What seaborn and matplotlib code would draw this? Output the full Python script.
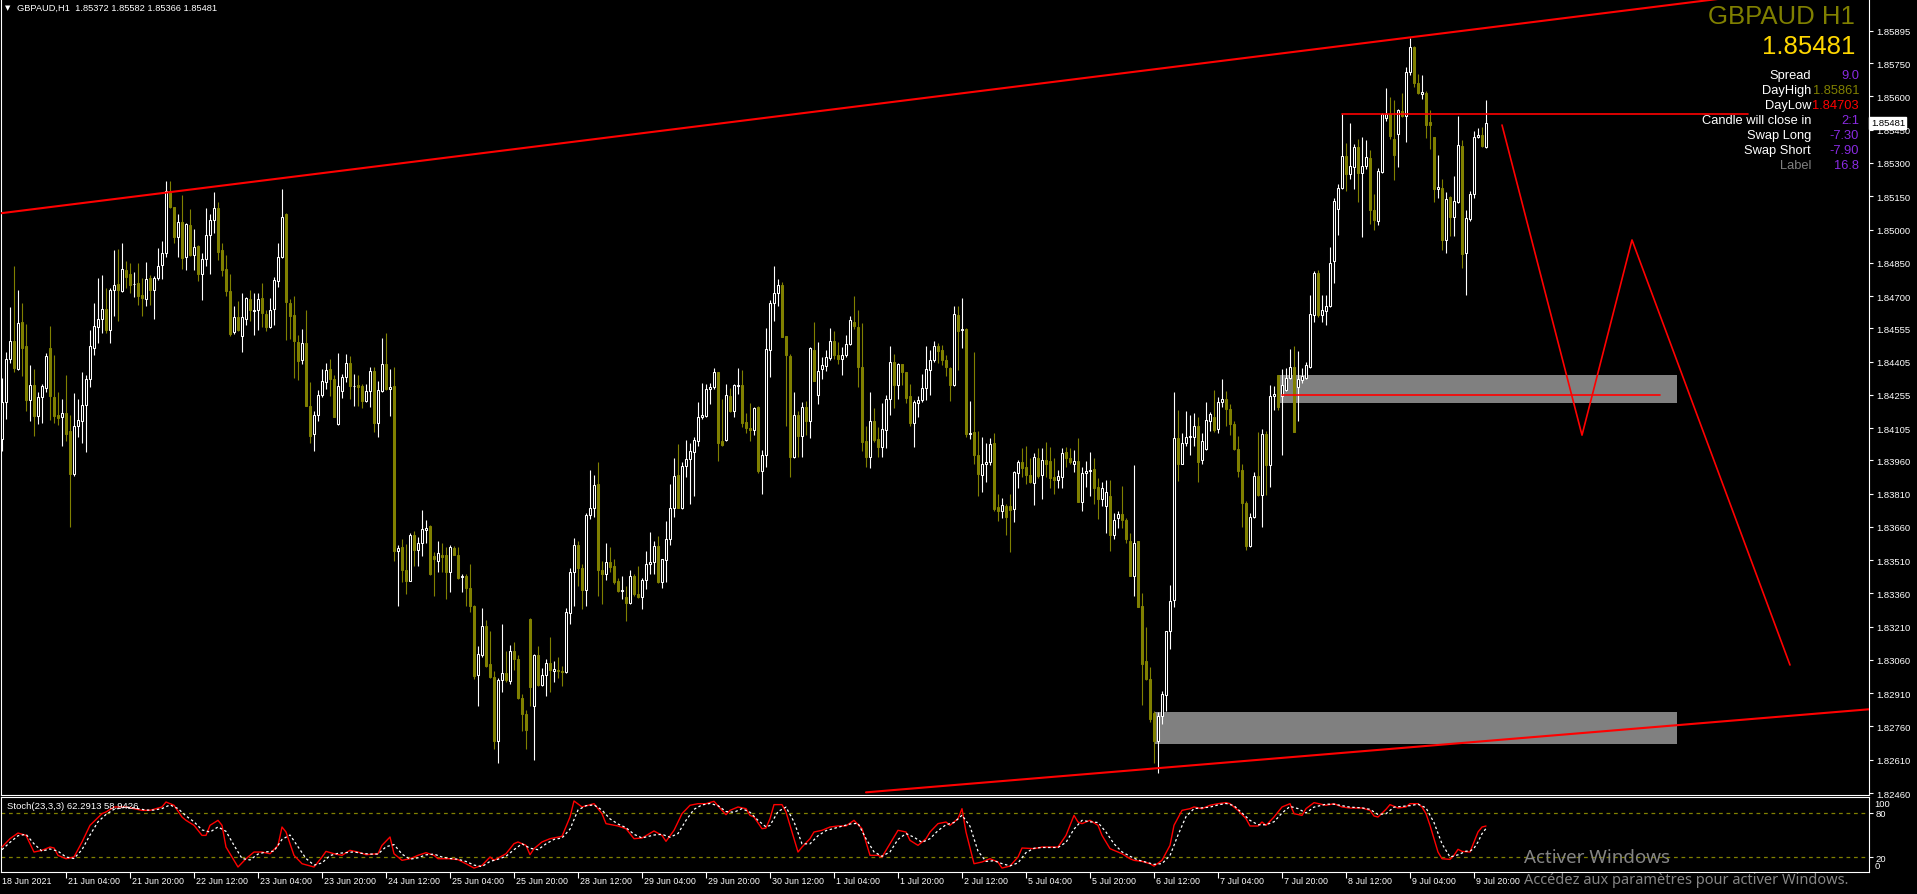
import numpy as np
import pandas as pd
import matplotlib
matplotlib.use("Agg")
import matplotlib.pyplot as plt
import matplotlib.transforms as mtransforms
from matplotlib.patches import Rectangle
import seaborn as sns

sns.set_theme(style="dark", rc={
    "figure.facecolor": "black", "axes.facecolor": "black",
    "axes.edgecolor": "white", "text.color": "white",
    "xtick.color": "white", "ytick.color": "white",
    "axes.grid": False,
})
plt.rcParams["font.family"] = ["Liberation Sans", "DejaVu Sans"]

OLIVE = "#808000"
VIOLET = "#8a2be2"

# ── GBPAUD H1 candles, 18 Jun 12:00 -> 9 Jul 23:00 (bar index 0..371) ──
opens = [
    1.84056, 1.84221, 1.84418, 1.84497, 1.84372, 1.84584, 1.84475, 1.84230, 1.84297, 1.84160,
    1.84245, 1.84286, 1.84464, 1.84245, 1.84164, 1.84157, 1.84172, 1.84092, 1.83896, 1.84116,
    1.84138, 1.84208, 1.84328, 1.84466, 1.84560, 1.84598, 1.84641, 1.84547, 1.84727, 1.84755,
    1.84722, 1.84817, 1.84801, 1.84753, 1.84760, 1.84705, 1.84687, 1.84782, 1.84727, 1.84782,
    1.84838, 1.84893, 1.85174, 1.85101, 1.84966, 1.85034, 1.84874, 1.85020, 1.84887, 1.84926,
    1.84801, 1.84869, 1.84974, 1.85044, 1.85099, 1.84906, 1.84823, 1.84724, 1.84540, 1.84604,
    1.84521, 1.84598, 1.84685, 1.84633, 1.84635, 1.84690, 1.84620, 1.84562, 1.84641, 1.84770,
    1.84874, 1.85068, 1.84668, 1.84613, 1.84494, 1.84414, 1.84488, 1.84206, 1.84080, 1.84162,
    1.84252, 1.84313, 1.84372, 1.84326, 1.84124, 1.84271, 1.84335, 1.84398, 1.84293, 1.84297,
    1.84295, 1.84225, 1.84273, 1.84363, 1.84126, 1.84273, 1.84396, 1.84282, 1.84295, 1.83550,
    1.83568, 1.83467, 1.83417, 1.83623, 1.83555, 1.83586, 1.83647, 1.83664, 1.83528, 1.83504,
    1.83535, 1.83531, 1.83454, 1.83564, 1.83535, 1.83434, 1.83436, 1.83384, 1.83301, 1.82994,
    1.83080, 1.83215, 1.83040, 1.82983, 1.82694, 1.82970, 1.83001, 1.82966, 1.83099, 1.83062,
    1.82887, 1.82817, 1.83246, 1.82850, 1.83080, 1.82948, 1.82994, 1.83044, 1.83009, 1.83016,
    1.83012, 1.83007, 1.83270, 1.83454, 1.83577, 1.83472, 1.83375, 1.83712, 1.83743, 1.83853,
    1.83467, 1.83448, 1.83500, 1.83482, 1.83415, 1.83369, 1.83344, 1.83316, 1.83439, 1.83356,
    1.83344, 1.83421, 1.83494, 1.83500, 1.83573, 1.83412, 1.83509, 1.83605, 1.83743, 1.83894,
    1.83743, 1.83932, 1.83964, 1.83997, 1.84046, 1.84157, 1.84160, 1.84280, 1.84289, 1.84356,
    1.84046, 1.84050, 1.84249, 1.84181, 1.84293, 1.84297, 1.84133, 1.84107, 1.84096, 1.84199,
    1.83912, 1.83982, 1.84457, 1.84668, 1.84712, 1.84749, 1.84519, 1.84429, 1.83973, 1.84166,
    1.84070, 1.84199, 1.84135, 1.84457, 1.84252, 1.84372, 1.84383, 1.84420, 1.84497, 1.84436,
    1.84418, 1.84436, 1.84484, 1.84584, 1.84562, 1.84381, 1.84046, 1.83973, 1.84138, 1.84056,
    1.84019, 1.84098, 1.84236, 1.84405, 1.84300, 1.84396, 1.84356, 1.84249, 1.84129, 1.84216,
    1.84230, 1.84286, 1.84368, 1.84414, 1.84473, 1.84455, 1.84414, 1.84374, 1.84299, 1.84613,
    1.84547, 1.84552, 1.84080, 1.84089, 1.83982, 1.83895, 1.83943, 1.83950, 1.84037, 1.83747,
    1.83731, 1.83753, 1.83753, 1.83742, 1.83902, 1.83954, 1.83928, 1.83895, 1.83856, 1.83972,
    1.83895, 1.83961, 1.83956, 1.83884, 1.83869, 1.83884, 1.83998, 1.83972, 1.83945, 1.83956,
    1.83771, 1.83902, 1.83910, 1.83921, 1.83840, 1.83786, 1.83753, 1.83801, 1.83622, 1.83699,
    1.83716, 1.83692, 1.83594, 1.83436, 1.83594, 1.83305, 1.83054, 1.82973, 1.82820, 1.82693,
    1.82809, 1.82901, 1.83189, 1.83331, 1.84059, 1.83943, 1.84037, 1.84066, 1.84066, 1.84114,
    1.83961, 1.84011, 1.84136, 1.84157, 1.84103, 1.84223, 1.84238, 1.84190, 1.84125, 1.84009,
    1.83917, 1.83768, 1.83572, 1.83705, 1.83889, 1.83803, 1.84079, 1.83939, 1.84251, 1.84343,
    1.84251, 1.84277, 1.84332, 1.84380, 1.84288, 1.84321, 1.84332, 1.84382, 1.84616, 1.84802,
    1.84616, 1.84634, 1.84656, 1.84857, 1.85093, 1.85189, 1.85331, 1.85250, 1.85283, 1.85370,
    1.85254, 1.85287, 1.85322, 1.85090, 1.85038, 1.85261, 1.85501, 1.85519, 1.85407, 1.85431,
    1.85534, 1.85512, 1.85709, 1.85822, 1.85661, 1.85610, 1.85615, 1.85484, 1.85418, 1.85184,
    1.85189, 1.84951, 1.85145, 1.85058, 1.85125, 1.85377, 1.84896, 1.85047, 1.85158, 1.85418,
    1.85425, 1.85372,
]
highs = [
    1.84332, 1.84446, 1.84650, 1.84836, 1.84727, 1.84667, 1.84575, 1.84387, 1.84372, 1.84267,
    1.84304, 1.84444, 1.84567, 1.84433, 1.84267, 1.84236, 1.84345, 1.84164, 1.84264, 1.84236,
    1.84356, 1.84346, 1.84549, 1.84667, 1.84781, 1.84795, 1.84736, 1.84735, 1.84906, 1.84911,
    1.84939, 1.84858, 1.84849, 1.84808, 1.84847, 1.84782, 1.84852, 1.84795, 1.84792, 1.84915,
    1.84946, 1.85218, 1.85218, 1.85101, 1.85068, 1.85156, 1.85031, 1.85093, 1.85003, 1.84930,
    1.84896, 1.85095, 1.85068, 1.85169, 1.85126, 1.84939, 1.84885, 1.84799, 1.84654, 1.84678,
    1.84716, 1.84698, 1.84727, 1.84713, 1.84714, 1.84758, 1.84635, 1.84690, 1.84786, 1.84939,
    1.85182, 1.85075, 1.84685, 1.84700, 1.84525, 1.84552, 1.84635, 1.84313, 1.84184, 1.84276,
    1.84372, 1.84400, 1.84418, 1.84345, 1.84442, 1.84350, 1.84438, 1.84429, 1.84350, 1.84346,
    1.84304, 1.84304, 1.84378, 1.84381, 1.84319, 1.84510, 1.84534, 1.84372, 1.84378, 1.83577,
    1.83605, 1.83583, 1.83632, 1.83642, 1.83614, 1.83734, 1.83691, 1.83669, 1.83546, 1.83596,
    1.83586, 1.83568, 1.83577, 1.83572, 1.83568, 1.83448, 1.83445, 1.83494, 1.83307, 1.83121,
    1.83292, 1.83240, 1.83191, 1.83012, 1.82979, 1.83222, 1.83099, 1.83126, 1.83139, 1.83080,
    1.82906, 1.82832, 1.83251, 1.83086, 1.83123, 1.83025, 1.83062, 1.83163, 1.83053, 1.83075,
    1.83034, 1.83292, 1.83472, 1.83608, 1.83596, 1.83494, 1.83724, 1.83918, 1.83894, 1.83951,
    1.83504, 1.83586, 1.83568, 1.83513, 1.83430, 1.83436, 1.83393, 1.83463, 1.83448, 1.83485,
    1.83430, 1.83553, 1.83638, 1.83596, 1.83620, 1.83513, 1.83688, 1.83853, 1.83969, 1.84032,
    1.83954, 1.84050, 1.84037, 1.84065, 1.84221, 1.84310, 1.84304, 1.84308, 1.84374, 1.84359,
    1.84236, 1.84304, 1.84286, 1.84304, 1.84374, 1.84365, 1.84172, 1.84218, 1.84199, 1.84203,
    1.84006, 1.84558, 1.84681, 1.84836, 1.84777, 1.84764, 1.84521, 1.84438, 1.84267, 1.84184,
    1.84221, 1.84227, 1.84470, 1.84584, 1.84493, 1.84424, 1.84455, 1.84558, 1.84543, 1.84493,
    1.84470, 1.84525, 1.84608, 1.84700, 1.84635, 1.84580, 1.84115, 1.84267, 1.84194, 1.84111,
    1.84218, 1.84254, 1.84475, 1.84438, 1.84398, 1.84396, 1.84359, 1.84304, 1.84230, 1.84249,
    1.84350, 1.84475, 1.84455, 1.84497, 1.84488, 1.84479, 1.84433, 1.84381, 1.84657, 1.84654,
    1.84690, 1.84556, 1.84227, 1.84448, 1.84092, 1.84066, 1.84037, 1.84059, 1.84081, 1.83808,
    1.83790, 1.83764, 1.83808, 1.83913, 1.83961, 1.84015, 1.84022, 1.83972, 1.83993, 1.84015,
    1.84015, 1.84041, 1.84020, 1.83972, 1.83917, 1.84015, 1.84020, 1.84015, 1.84004, 1.84059,
    1.83928, 1.83956, 1.83998, 1.83972, 1.83878, 1.83862, 1.83873, 1.83873, 1.83720, 1.83731,
    1.83845, 1.83699, 1.83633, 1.83939, 1.83594, 1.83360, 1.83207, 1.83028, 1.82829, 1.82824,
    1.82918, 1.83192, 1.83397, 1.84267, 1.84186, 1.84081, 1.84184, 1.84162, 1.84175, 1.84153,
    1.84081, 1.84223, 1.84179, 1.84277, 1.84245, 1.84328, 1.84273, 1.84212, 1.84136, 1.84070,
    1.83943, 1.83775, 1.83720, 1.83906, 1.84085, 1.84103, 1.84092, 1.84299, 1.84293, 1.84343,
    1.84371, 1.84376, 1.84463, 1.84474, 1.84452, 1.84376, 1.84402, 1.84704, 1.84813, 1.84819,
    1.84704, 1.84704, 1.84922, 1.85141, 1.85206, 1.85519, 1.85392, 1.85479, 1.85385, 1.85407,
    1.85418, 1.85403, 1.85359, 1.85158, 1.85276, 1.85527, 1.85639, 1.85599, 1.85582, 1.85545,
    1.85617, 1.85731, 1.85862, 1.85829, 1.85702, 1.85698, 1.85626, 1.85538, 1.85418, 1.85337,
    1.85228, 1.85167, 1.85151, 1.85239, 1.85512, 1.85403, 1.85086, 1.85173, 1.85442, 1.85457,
    1.85464, 1.85582,
]
lows = [
    1.84000, 1.84148, 1.84400, 1.84356, 1.84368, 1.84341, 1.84184, 1.84138, 1.84070, 1.84124,
    1.84126, 1.84267, 1.84142, 1.84129, 1.84120, 1.84023, 1.84046, 1.83660, 1.83890, 1.84063,
    1.84037, 1.83995, 1.84289, 1.84433, 1.84488, 1.84534, 1.84534, 1.84488, 1.84611, 1.84589,
    1.84718, 1.84736, 1.84713, 1.84694, 1.84659, 1.84611, 1.84657, 1.84661, 1.84595, 1.84773,
    1.84779, 1.84874, 1.85095, 1.84939, 1.84874, 1.84823, 1.84816, 1.84880, 1.84819, 1.84768,
    1.84681, 1.84834, 1.84801, 1.84985, 1.84862, 1.84792, 1.84700, 1.84519, 1.84530, 1.84541,
    1.84448, 1.84571, 1.84589, 1.84525, 1.84549, 1.84562, 1.84543, 1.84558, 1.84571, 1.84742,
    1.84871, 1.84503, 1.84506, 1.84332, 1.84322, 1.84396, 1.84203, 1.84037, 1.84000, 1.84138,
    1.84245, 1.84282, 1.84249, 1.84157, 1.84120, 1.84240, 1.84313, 1.84236, 1.84206, 1.84203,
    1.84194, 1.84221, 1.84199, 1.84089, 1.84065, 1.84267, 1.84276, 1.84160, 1.83504, 1.83301,
    1.83412, 1.83356, 1.83415, 1.83485, 1.83485, 1.83528, 1.83586, 1.83443, 1.83347, 1.83458,
    1.83458, 1.83333, 1.83366, 1.83531, 1.83424, 1.83366, 1.83305, 1.83274, 1.82976, 1.82850,
    1.83071, 1.83029, 1.82979, 1.82657, 1.82597, 1.82915, 1.82961, 1.82952, 1.83016, 1.82884,
    1.82740, 1.82657, 1.82850, 1.82608, 1.82942, 1.82942, 1.82896, 1.82915, 1.82961, 1.82979,
    1.82942, 1.83003, 1.83222, 1.83301, 1.83393, 1.83288, 1.83301, 1.83697, 1.83706, 1.83347,
    1.83314, 1.83421, 1.83458, 1.83402, 1.83366, 1.83333, 1.83237, 1.83314, 1.83347, 1.83338,
    1.83288, 1.83380, 1.83448, 1.83448, 1.83406, 1.83384, 1.83412, 1.83577, 1.83706, 1.83743,
    1.83739, 1.83884, 1.83761, 1.83798, 1.84024, 1.84148, 1.84157, 1.84212, 1.84282, 1.83958,
    1.84024, 1.84046, 1.84179, 1.84157, 1.84258, 1.84111, 1.84083, 1.84046, 1.84074, 1.83903,
    1.83807, 1.83931, 1.84337, 1.84589, 1.84654, 1.84516, 1.84116, 1.83886, 1.83969, 1.83976,
    1.83973, 1.84074, 1.84061, 1.84319, 1.84212, 1.84328, 1.84363, 1.84414, 1.84418, 1.84396,
    1.84345, 1.84424, 1.84479, 1.84552, 1.84289, 1.84000, 1.83931, 1.83927, 1.84043, 1.83973,
    1.83976, 1.84015, 1.84162, 1.84194, 1.84236, 1.84300, 1.84216, 1.84115, 1.84019, 1.84157,
    1.84221, 1.84230, 1.84254, 1.84405, 1.84400, 1.84387, 1.84341, 1.84227, 1.84295, 1.84368,
    1.84466, 1.84065, 1.84056, 1.83945, 1.83798, 1.83819, 1.83862, 1.83939, 1.83731, 1.83688,
    1.83699, 1.83622, 1.83546, 1.83683, 1.83834, 1.83884, 1.83851, 1.83856, 1.83757, 1.83878,
    1.83786, 1.83884, 1.83836, 1.83808, 1.83834, 1.83834, 1.83928, 1.83943, 1.83906, 1.83771,
    1.83731, 1.83840, 1.83797, 1.83764, 1.83694, 1.83753, 1.83633, 1.83552, 1.83605, 1.83655,
    1.83655, 1.83589, 1.83436, 1.83349, 1.83299, 1.82857, 1.82971, 1.82781, 1.82595, 1.82551,
    1.82770, 1.82829, 1.83109, 1.83299, 1.83867, 1.83943, 1.84026, 1.83983, 1.84026, 1.83862,
    1.83943, 1.84004, 1.84092, 1.84085, 1.84081, 1.84201, 1.84114, 1.84074, 1.84004, 1.83884,
    1.83659, 1.83556, 1.83567, 1.83699, 1.83797, 1.83659, 1.83803, 1.83840, 1.84186, 1.84186,
    1.83983, 1.84271, 1.84328, 1.84087, 1.84136, 1.84310, 1.84328, 1.84376, 1.84583, 1.84605,
    1.84583, 1.84568, 1.84649, 1.84758, 1.84977, 1.85184, 1.85173, 1.85228, 1.85184, 1.85125,
    1.84966, 1.85272, 1.85025, 1.84999, 1.85020, 1.85254, 1.85490, 1.85407, 1.85221, 1.85283,
    1.85508, 1.85396, 1.85698, 1.85643, 1.85610, 1.85588, 1.85414, 1.85363, 1.85123, 1.85141,
    1.84907, 1.84896, 1.84970, 1.84970, 1.85119, 1.84828, 1.84704, 1.85038, 1.85141, 1.85414,
    1.85370, 1.85366,
]
closes = [
    1.84221, 1.84418, 1.84497, 1.84374, 1.84578, 1.84466, 1.84230, 1.84297, 1.84160, 1.84245,
    1.84295, 1.84429, 1.84249, 1.84160, 1.84151, 1.84172, 1.84080, 1.83896, 1.84115, 1.84142,
    1.84208, 1.84328, 1.84475, 1.84563, 1.84597, 1.84641, 1.84549, 1.84727, 1.84749, 1.84727,
    1.84821, 1.84788, 1.84751, 1.84755, 1.84700, 1.84689, 1.84779, 1.84727, 1.84782, 1.84834,
    1.84896, 1.85174, 1.85101, 1.84966, 1.85034, 1.84871, 1.85025, 1.84887, 1.84920, 1.84801,
    1.84865, 1.84974, 1.85044, 1.85099, 1.84898, 1.84819, 1.84724, 1.84530, 1.84604, 1.84549,
    1.84606, 1.84690, 1.84635, 1.84635, 1.84685, 1.84622, 1.84562, 1.84635, 1.84773, 1.84874,
    1.85058, 1.84672, 1.84611, 1.84497, 1.84409, 1.84488, 1.84206, 1.84070, 1.84162, 1.84254,
    1.84317, 1.84365, 1.84326, 1.84157, 1.84295, 1.84335, 1.84400, 1.84295, 1.84295, 1.84291,
    1.84225, 1.84271, 1.84363, 1.84126, 1.84276, 1.84396, 1.84282, 1.84289, 1.83550, 1.83563,
    1.83463, 1.83417, 1.83623, 1.83555, 1.83586, 1.83651, 1.83656, 1.83445, 1.83517, 1.83540,
    1.83522, 1.83454, 1.83568, 1.83535, 1.83430, 1.83439, 1.83384, 1.83301, 1.82988, 1.83086,
    1.83215, 1.83034, 1.82983, 1.82694, 1.82970, 1.83001, 1.82970, 1.83099, 1.83062, 1.82887,
    1.82817, 1.82744, 1.82937, 1.83080, 1.82946, 1.82994, 1.83044, 1.83016, 1.83020, 1.83011,
    1.83007, 1.83274, 1.83454, 1.83577, 1.83472, 1.83375, 1.83712, 1.83743, 1.83848, 1.83467,
    1.83448, 1.83500, 1.83480, 1.83412, 1.83371, 1.83375, 1.83316, 1.83436, 1.83356, 1.83342,
    1.83421, 1.83491, 1.83500, 1.83573, 1.83412, 1.83513, 1.83605, 1.83743, 1.83890, 1.83743,
    1.83936, 1.83964, 1.84000, 1.84050, 1.84157, 1.84162, 1.84280, 1.84289, 1.84356, 1.84037,
    1.84028, 1.84254, 1.84184, 1.84298, 1.84297, 1.84129, 1.84107, 1.84096, 1.84194, 1.83912,
    1.83982, 1.84460, 1.84667, 1.84712, 1.84751, 1.84516, 1.84433, 1.83973, 1.84162, 1.84070,
    1.84199, 1.84135, 1.84464, 1.84319, 1.84363, 1.84387, 1.84424, 1.84497, 1.84436, 1.84418,
    1.84436, 1.84484, 1.84593, 1.84567, 1.84381, 1.84043, 1.83973, 1.84138, 1.84052, 1.84019,
    1.84102, 1.84236, 1.84402, 1.84300, 1.84392, 1.84356, 1.84240, 1.84126, 1.84221, 1.84230,
    1.84286, 1.84372, 1.84414, 1.84473, 1.84451, 1.84414, 1.84378, 1.84299, 1.84617, 1.84543,
    1.84552, 1.84080, 1.84083, 1.83982, 1.83899, 1.83943, 1.83954, 1.84031, 1.83742, 1.83731,
    1.83757, 1.83705, 1.83736, 1.83906, 1.83954, 1.83924, 1.83895, 1.83862, 1.83976, 1.83889,
    1.83961, 1.83943, 1.83878, 1.83873, 1.83889, 1.83993, 1.83972, 1.83950, 1.83956, 1.83771,
    1.83902, 1.83910, 1.83917, 1.83834, 1.83786, 1.83834, 1.83819, 1.83622, 1.83692, 1.83716,
    1.83692, 1.83605, 1.83436, 1.83585, 1.83299, 1.83043, 1.82973, 1.82792, 1.82693, 1.82809,
    1.82905, 1.83189, 1.83327, 1.84059, 1.83943, 1.84037, 1.84066, 1.84070, 1.84114, 1.83950,
    1.84048, 1.84140, 1.84168, 1.84098, 1.84223, 1.84238, 1.84190, 1.84125, 1.84009, 1.83913,
    1.83768, 1.83572, 1.83705, 1.83889, 1.83803, 1.84079, 1.83939, 1.84251, 1.84259, 1.84201,
    1.84299, 1.84332, 1.84380, 1.84087, 1.84328, 1.84339, 1.84387, 1.84621, 1.84806, 1.84616,
    1.84638, 1.84656, 1.84850, 1.85130, 1.85189, 1.85331, 1.85250, 1.85287, 1.85370, 1.85254,
    1.85287, 1.85326, 1.85090, 1.85042, 1.85265, 1.85519, 1.85519, 1.85420, 1.85337, 1.85538,
    1.85512, 1.85709, 1.85822, 1.85661, 1.85615, 1.85621, 1.85473, 1.85473, 1.85184, 1.85191,
    1.84951, 1.85136, 1.85058, 1.85130, 1.85381, 1.84889, 1.85053, 1.85158, 1.85418, 1.85425,
    1.85377, 1.85481,
]

# time axis labels (bar index -> label)
time_ticks = [16, 32, 48, 64, 80, 96, 112, 128, 144, 160, 176, 192,
              208, 224, 240, 256, 272, 288, 304, 320, 336, 352, 368]
time_labels = ["21 Jun 04:00", "21 Jun 20:00", "22 Jun 12:00", "23 Jun 04:00",
               "23 Jun 20:00", "24 Jun 12:00", "25 Jun 04:00", "25 Jun 20:00",
               "28 Jun 12:00", "29 Jun 04:00", "29 Jun 20:00", "30 Jun 12:00",
               "1 Jul 04:00", "1 Jul 20:00", "2 Jul 12:00", "5 Jul 04:00",
               "5 Jul 20:00", "6 Jul 12:00", "7 Jul 04:00", "7 Jul 20:00",
               "8 Jul 12:00", "9 Jul 04:00", "9 Jul 20:00"]

price_ticks = [1.85895, 1.85750, 1.85600, 1.85450, 1.85300, 1.85150, 1.85000,
               1.84850, 1.84700, 1.84555, 1.84405, 1.84255, 1.84105, 1.83960,
               1.83810, 1.83660, 1.83510, 1.83360, 1.83210, 1.83060, 1.82910,
               1.82760, 1.82610, 1.82460]

# Stochastic(23,3,3): main (red) and signal (white dashed), sampled bars
stoch_bars = [0, 2, 4, 6, 8, 10, 12, 13, 14, 16, 18, 20, 22, 25, 26, 28, 31, 33, 35, 37,
              40, 41, 43, 45, 46, 48, 50, 51, 52, 54, 55, 56, 58, 59, 61, 63, 65, 67, 69, 70,
              71, 73, 75, 78, 80, 81, 83, 85, 87, 89, 91, 94, 95, 97, 98, 100, 102, 104, 106, 108,
              109, 112, 114, 116, 118, 120, 122, 123, 126, 128, 129, 131, 132, 133, 135, 137, 140, 142, 143, 145,
              148, 150, 151, 154, 156, 158, 160, 163, 165, 166, 168, 170, 172, 174, 176, 178, 180, 181, 182, 184,
              186, 187, 188, 190, 191, 192, 193, 195, 196, 198, 199, 200, 202, 203, 205, 207, 209, 211, 213, 215,
              217, 219, 220, 222, 224, 226, 227, 229, 231, 232, 234, 236, 237, 239, 240, 241, 243, 245, 247, 249,
              250, 252, 254, 255, 258, 260, 263, 264, 266, 268, 269, 270, 272, 274, 275, 277, 279, 280, 282, 283,
              285, 287, 288, 290, 292, 293, 295, 297, 298, 300, 302, 304, 306, 307, 309, 311, 312, 314, 315, 316,
              318, 320, 322, 323, 325, 326, 328, 331, 333, 335, 337, 340, 342, 343, 344, 346, 347, 349, 351, 352,
              354, 355, 356, 357, 358, 359, 360, 362, 363, 364, 365, 367, 368, 369, 370, 371]
stoch_main = [33.6, 45, 52.7, 49.5, 26.8, 29.1, 33.6, 32.3, 22.3, 17.7, 20, 40.5, 63.2, 79.1, 81.4, 88.2, 88.2, 85.9, 83.6, 83.6,
              88.2, 95, 90.5, 74.5, 70, 63.2, 49.5, 49.5, 63.2, 70, 63.2, 33.6, 15.5, 6.4, 17.7, 26.8, 26.8, 24.5, 35.9, 60.9,
              54.1, 22.3, 10.9, 6.4, 20, 27.7, 24.5, 22.3, 29.1, 26.8, 23.2, 24.5, 35.9, 47.3, 24.5, 15.5, 17.7, 22.3, 25.9, 22.3,
              17.7, 17.7, 16.4, 10.9, 5, 8.6, 20, 15.5, 24.5, 38.2, 40.5, 35.9, 23.2, 31.4, 40.5, 45, 48.2, 74.5, 96.4, 88.2,
              92.7, 79.1, 65.5, 62.3, 58.6, 45, 45.9, 55.5, 49.5, 41.4, 56.4, 79.1, 90.5, 92.7, 92.7, 95.9, 83.6, 77.7, 83.6, 88.2,
              85.9, 76.8, 74.5, 58.6, 59.5, 72.3, 91.4, 91.4, 81.4, 45, 26.8, 33.6, 45, 54.1, 56.4, 60.9, 62.3, 62.3, 70, 58.6,
              22.3, 22.3, 20, 38.2, 56.4, 54.1, 42.7, 35.9, 45, 54.1, 65.5, 67.7, 63.2, 72.3, 85.9, 54.1, 10.9, 13.2, 17.7, 13.2,
              5, 7.7, 20, 32.3, 31.4, 33.6, 33.6, 33.6, 49.5, 76.8, 67.7, 65.5, 70, 63.2, 49.5, 31.4, 26.8, 24.5, 17.7, 15.5,
              14.1, 10.9, 7.7, 15.5, 35.9, 63.2, 83.6, 85.9, 88.2, 85.9, 90.5, 92.7, 94.1, 92.7, 83.6, 72.3, 62.3, 62.3, 67.7, 63.2,
              74.5, 88.2, 92.7, 79.1, 76.8, 85.9, 94.1, 90.5, 92.7, 88.2, 86.8, 86.8, 83.6, 75.9, 74.5, 85, 91.4, 86.8, 88.2, 92.7,
              92.7, 88.2, 79.1, 63.2, 45, 26.8, 17.7, 16.8, 22.3, 30.5, 27.7, 26.8, 40.5, 54.1, 60.9, 62.3]
sig_bars = [0, 2, 4, 6, 8, 10, 12, 14, 16, 18, 20, 22, 24, 26, 28, 31, 33, 36, 38, 40,
            42, 44, 46, 48, 50, 52, 54, 56, 58, 60, 62, 64, 66, 68, 70, 72, 74, 76, 78, 80,
            82, 84, 86, 88, 90, 92, 94, 96, 98, 100, 102, 104, 106, 108, 110, 112, 114, 116, 118, 120,
            122, 124, 126, 128, 130, 132, 134, 136, 138, 140, 142, 144, 146, 148, 150, 152, 154, 156, 158, 160,
            163, 165, 167, 169, 171, 173, 175, 177, 179, 181, 183, 185, 187, 189, 191, 192, 194, 196, 198, 200,
            202, 204, 206, 208, 210, 212, 214, 216, 218, 220, 222, 224, 226, 228, 230, 232, 234, 236, 238, 240,
            242, 244, 246, 248, 250, 252, 254, 256, 258, 260, 264, 266, 268, 270, 272, 274, 276, 278, 280, 282,
            284, 286, 288, 290, 292, 294, 296, 298, 300, 302, 304, 306, 308, 310, 312, 314, 316, 318, 320, 322,
            324, 326, 328, 331, 333, 335, 337, 340, 342, 344, 346, 348, 350, 352, 354, 356, 358, 360, 362, 364,
            366, 367, 368, 369, 370, 371]
sig_vals = [30, 40, 49, 51, 38, 28, 31, 28, 20, 18, 30, 50, 68, 78, 85, 88, 87, 84, 84, 86,
            91, 86, 76, 68, 57, 54, 61, 55, 36, 18, 16, 24, 27, 28, 44, 50, 34, 18, 9, 12,
            22, 25, 26, 27, 25, 24, 24, 34, 37, 24, 17, 19, 23, 24, 20, 18, 17, 14, 9, 7,
            14, 17, 21, 30, 38, 32, 30, 38, 44, 46, 58, 84, 90, 91, 84, 72, 65, 60, 51, 46,
            50, 51, 47, 52, 70, 85, 91, 93, 90, 82, 81, 86, 81, 70, 61, 63, 82, 88, 68, 38,
            38, 49, 56, 59, 62, 65, 66, 45, 27, 21, 27, 44, 52, 47, 40, 45, 56, 64, 67, 77,
            62, 28, 14, 15, 11, 8, 12, 26, 32, 33, 33, 40, 58, 70, 68, 67, 54, 38, 27, 21,
            16, 13, 10, 11, 22, 50, 75, 86, 87, 88, 91, 93, 90, 80, 70, 64, 64, 68, 80, 89,
            86, 80, 88, 92, 92, 90, 88, 87, 85, 78, 79, 88, 89, 90, 92, 87, 67, 38, 20, 23,
            28, 28, 32, 40.5, 51.8, 58.9]

# drawn objects: trendlines, rectangles, projection path
upper_trend = [(0, 1.85074), (352, 1.85866)]
lower_trend = [(216, 1.82463), (289, 1.82572)]
resistance = [(335, 1.85519), (436.5, 1.85519)]
mid_level = [(320, 1.84255), (414.5, 1.84255)]
upper_box = [(319, 1.84216), (418.75, 1.84343)]
lower_box = [(288, 1.82681), (418.75, 1.82825)]
proj_bars = [375, 395, 407.5, 447]
proj_prices = [1.85471, 1.84073, 1.84953, 1.83037]

W, H, DPI = 1917, 895, 100
fig = plt.figure(figsize=(W / DPI, H / DPI), dpi=DPI)


def px_rect(x0, y0, x1, y1):
    return [x0 / W, 1 - y1 / H, (x1 - x0) / W, (y1 - y0) / H]


ax = fig.add_axes(px_rect(1, 0, 1869, 796))
st = fig.add_axes(px_rect(1, 798, 1869, 873), sharex=ax)
XLIM = (-0.25, 466.75)
ax.set_xlim(*XLIM)
ax.set_ylim(1.82451, 1.86039)

# ── candles ──
o = np.array(opens); c = np.array(closes)
hi = np.array(highs); lo = np.array(lows)
bars = np.arange(len(c))
up = c >= o
ax.vlines(bars[up], lo[up], hi[up], colors="white", linewidth=0.8, zorder=3)
ax.vlines(bars[~up], lo[~up], hi[~up], colors=OLIVE, linewidth=0.8, zorder=3)
ax.bar(bars[up], (c - o)[up], bottom=o[up], width=0.5, color="black",
       edgecolor="white", linewidth=0.75, zorder=4)
ax.bar(bars[~up], (o - c)[~up], bottom=c[~up], width=0.5, color=OLIVE,
       edgecolor=OLIVE, linewidth=0.75, zorder=4)

# ── zones and lines ──
for (x0, y0), (x1, y1) in (upper_box, lower_box):
    ax.add_patch(Rectangle((x0, y0), x1 - x0, y1 - y0, color="#808080", lw=0, zorder=1))

ax.axline(upper_trend[0], upper_trend[1], color="red", lw=1.5, zorder=5)
(lx0, ly0), (lx1, ly1) = lower_trend
slope = (ly1 - ly0) / (lx1 - lx0)
ax.plot([lx0, XLIM[1]], [ly0, ly0 + slope * (XLIM[1] - lx0)], color="red", lw=1.5, zorder=5)
for seg in (resistance, mid_level):
    ax.plot([seg[0][0], seg[1][0]], [seg[0][1], seg[1][1]], color="red", lw=1.2, zorder=5)
ax.plot(proj_bars, proj_prices, color="red", lw=1.2, zorder=5)

# ── price axis ──
for a in (ax, st):
    a.tick_params(axis="y", which="both", left=False, right=True, labelleft=False,
                  labelright=True, length=3, width=0.8, pad=2, labelsize=6.8,
                  colors="white")
    a.set_xlabel(""); a.set_ylabel("")
ax.set_yticks(price_ticks)
ax.set_yticklabels([f"{p:.5f}" for p in price_ticks])
ax.tick_params(axis="x", bottom=False, labelbottom=False)
for side in ("left", "bottom", "right"):
    ax.spines[side].set_color("white"); ax.spines[side].set_linewidth(0.8)
ax.spines["top"].set_visible(False)

blend_y = mtransforms.blended_transform_factory(ax.transAxes, ax.transData)
ax.text(1.001, closes[-1], f"{closes[-1]:.5f}", transform=blend_y, fontsize=6.8,
        color="black", va="center", ha="left", clip_on=False, zorder=10,
        bbox=dict(boxstyle="square,pad=0.15", fc="white", ec="white"))

# ── stochastic panel ──
main_df = pd.DataFrame({"bar": stoch_bars, "value": stoch_main})
sig_df = pd.DataFrame({"bar": sig_bars, "value": sig_vals})
sns.lineplot(data=main_df, x="bar", y="value", ax=st, color="red", linewidth=1.0,
             estimator=None, sort=False, zorder=3)
sns.lineplot(data=sig_df, x="bar", y="value", ax=st, color="white", linewidth=0.9,
             estimator=None, sort=False, linestyle=(0, (2, 2)), zorder=4)
st.set_xlabel(""); st.set_ylabel("")
st.set_ylim(-0.4, 101.8)
st.set_xlim(*XLIM)
for lvl in (80, 20):
    st.axhline(lvl, color=OLIVE, lw=0.9, ls=(0, (3, 3)), zorder=2)
st.set_yticks([80, 20])
st.set_yticklabels(["80", "20"])
blend_s = mtransforms.blended_transform_factory(st.transAxes, st.transData)
st.text(1.003, 99, "100", transform=blend_s, fontsize=6.8, color="white", va="top", ha="left")
st.text(1.003, 2, "0", transform=blend_s, fontsize=6.8, color="white", va="bottom", ha="left")
st.text(0.003, 0.88, "Stoch(23,3,3) 62.2913 58.9426", transform=st.transAxes,
        fontsize=6.8, color="white", va="center", ha="left")
for side in st.spines:
    st.spines[side].set_color("white"); st.spines[side].set_linewidth(0.8)
st.set_xticks(time_ticks)
st.set_xticklabels([])
st.tick_params(axis="x", bottom=True, length=4, width=0.8, colors="white")
blend_t = mtransforms.blended_transform_factory(st.transData, st.transAxes)
st.text(-0.1, -0.12, "18 Jun 2021", transform=blend_t, fontsize=6.4, color="white",
        va="center", ha="left")
for b, lab in zip(time_ticks, time_labels):
    st.text(b + 0.5, -0.12, lab, transform=blend_t, fontsize=6.4, color="white",
            va="center", ha="left")

# ── header and info panel ──
fig.text(8 / W, 1 - 8 / H, "▼", fontsize=5, color="white", ha="center", va="center",
         family=["DejaVu Sans"])
fig.text(17 / W, 1 - 8 / H, "GBPAUD,H1  1.85372 1.85582 1.85366 1.85481",
         fontsize=6.7, color="white", ha="left", va="center")
fig.text(1855 / W, 1 - 17 / H, "GBPAUD H1", fontsize=18.5, color=OLIVE, ha="right", va="center")
fig.text(1855 / W, 1 - 47 / H, "1.85481", fontsize=18.5, color="#ffd700", ha="right", va="center")
info_rows = [("Spread", "9.0", VIOLET), ("DayHigh", "1.85861", OLIVE),
             ("DayLow", "1.84703", "red"), ("Candle will close in", "2:1", VIOLET),
             ("Swap Long", "-7.30", VIOLET), ("Swap Short", "-7.90", VIOLET),
             ("Label", "16.8", VIOLET)]
for k, (name, val, col) in enumerate(info_rows):
    y = 1 - (76 + 15 * k) / H
    fig.text(1811 / W, y, name, fontsize=9.3, ha="right", va="center",
             color="#808080" if name == "Label" else "white")
    fig.text(1859 / W, y, val, fontsize=9.3, ha="right", va="center", color=col)

# windows activation watermark
fig.text(1524 / W, 1 - 858 / H, "Activer Windows", fontsize=13.5, color="#858585",
         ha="left", va="center", family=["Noto Sans", "DejaVu Sans"])
fig.text(1524 / W, 1 - 881 / H, "Accédez aux paramètres pour activer Windows.",
         fontsize=10.5, color="#858585", ha="left", va="center",
         family=["Noto Sans", "DejaVu Sans"])

fig.savefig("out.png", dpi=DPI, facecolor="black")
